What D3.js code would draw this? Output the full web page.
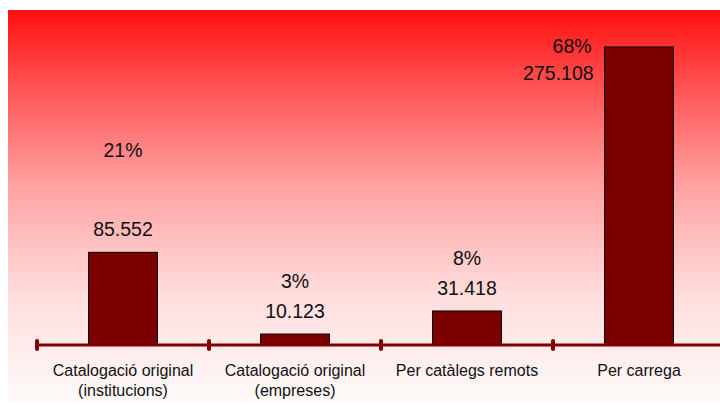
<!doctype html>
<html lang="ca">
<head>
<meta charset="utf-8">
<title>Catalogació</title>
<script src="https://d3js.org/d3.v7.min.js"></script>
<style>
  html, body { margin: 0; padding: 0; background: #fff; }
  svg { display: block; font-family: "Liberation Sans", Arial, sans-serif; }
</style>
</head>
<body>
<svg id="chart" width="720" height="403"></svg>
<script>
// data
const categories = [
  ["Catalogació original", "(institucions)"],
  ["Catalogació original", "(empreses)"],
  ["Per catàlegs remots"],
  ["Per carrega"]
];
const values = [85552, 10123, 31418, 275108];
const valueLabels = ["85.552", "10.123", "31.418", "275.108"];
const percentLabels = ["21%", "3%", "8%", "68%"];

const width = 720, height = 403;
const axisY = 345;

const svg = d3.select("#chart");

// gradient background panel
const defs = svg.append("defs");
const grad = defs.append("linearGradient")
  .attr("id", "bg").attr("x1", 0).attr("y1", 0).attr("x2", 0).attr("y2", 1);
grad.append("stop").attr("offset", "0%").attr("stop-color", "#ff1010");
grad.append("stop").attr("offset", "25%").attr("stop-color", "#ff6565");
grad.append("stop").attr("offset", "45%").attr("stop-color", "#ffa3a3");
grad.append("stop").attr("offset", "72%").attr("stop-color", "#ffdcdc");
grad.append("stop").attr("offset", "100%").attr("stop-color", "#fffafa");

svg.append("rect")
  .attr("x", 8).attr("y", 10)
  .attr("width", width - 8).attr("height", height - 10)
  .attr("fill", "url(#bg)");

const keys = d3.range(categories.length);

const x = d3.scaleBand()
  .domain(keys)
  .range([37, 725])
  .paddingInner(0.6)
  .paddingOuter(0.3);

const y = d3.scaleLinear()
  .domain([0, 300000])
  .range([axisY, 20]);

// bars
svg.selectAll("rect.bar")
  .data(values)
  .enter().append("rect")
  .attr("class", "bar")
  .attr("x", (d, i) => x(i))
  .attr("y", d => y(d))
  .attr("width", x.bandwidth())
  .attr("height", d => axisY - y(d))
  .attr("fill", "#7d0000")
  .attr("stroke", "#000")
  .attr("stroke-width", 1);

// category axis
svg.append("line")
  .attr("x1", 37).attr("x2", width)
  .attr("y1", axisY).attr("y2", axisY)
  .attr("stroke", "#800000").attr("stroke-width", 3);

const step = x.step();
const tickX = keys.map(i => x(i) - x.paddingOuter() * step);
svg.selectAll("rect.tick")
  .data(tickX)
  .enter().append("rect")
  .attr("class", "tick")
  .attr("x", d => d - 2).attr("y", axisY - 6)
  .attr("width", 4).attr("height", 12)
  .attr("rx", 2)
  .attr("fill", "#800000");

// category labels
const cat = svg.selectAll("text.cat")
  .data(categories)
  .enter().append("text")
  .attr("class", "cat")
  .attr("text-anchor", "middle")
  .attr("font-size", 16)
  .attr("fill", "#111");
cat.selectAll("tspan")
  .data((d, i) => d.map(t => ({ t, i })))
  .enter().append("tspan")
  .attr("x", d => x(d.i) + x.bandwidth() / 2)
  .attr("y", (d, j) => 376 + j * 20)
  .text(d => d.t);

// value and percent labels
const last = values.length - 1;
const pctLift = [79, 30, 30, 27];

svg.selectAll("text.val")
  .data(values)
  .enter().append("text")
  .attr("class", "val")
  .attr("font-size", 19.5)
  .attr("fill", "#111")
  .attr("text-anchor", (d, i) => i === last ? "end" : "middle")
  .attr("x", (d, i) => i === last ? x(i) - 11 : x(i) + x.bandwidth() / 2)
  .attr("y", (d, i) => i === last ? y(d) + 33 : y(d) - 16)
  .text((d, i) => valueLabels[i]);

svg.selectAll("text.pct")
  .data(values)
  .enter().append("text")
  .attr("class", "pct")
  .attr("font-size", 19.5)
  .attr("fill", "#111")
  .attr("text-anchor", (d, i) => i === last ? "end" : "middle")
  .attr("x", (d, i) => i === last ? x(i) - 13 : x(i) + x.bandwidth() / 2)
  .attr("y", (d, i) => (i === last ? y(d) + 33 : y(d) - 16) - pctLift[i])
  .text((d, i) => percentLabels[i]);
</script>
</body>
</html>
